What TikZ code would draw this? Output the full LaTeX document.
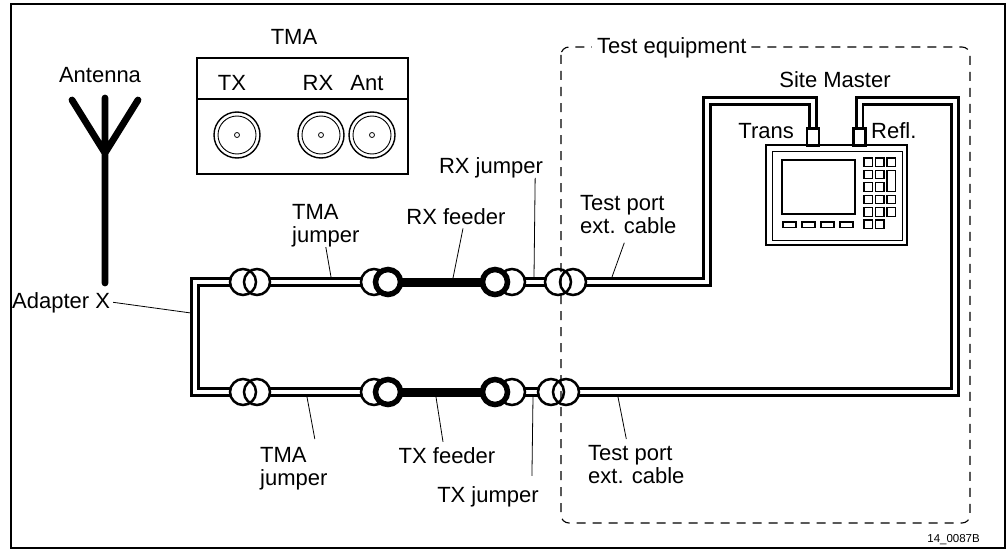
\documentclass[tikz,border=0pt]{standalone}
\usepackage{fontspec}
\setmainfont{Liberation Sans}
\usetikzlibrary{backgrounds}
\begin{document}
\begin{tikzpicture}[x=1pt,y=-1pt,
  txt/.style={font=\fontsize{22}{23}\selectfont,inner sep=0pt},
  cable/.style={line width=2.6pt,double=white,double distance=4pt},
  feeder/.style={line width=9pt},
  plug/.style={circle,draw,line width=2.5pt,minimum size=26pt,inner sep=0pt,outer sep=0pt},
  fplug/.style={plug,fill=white,line width=5.5pt,minimum size=25pt},
  lead/.style={line width=0.8pt},
  port/.style={draw,fill=white,line width=2.6pt,minimum width=12pt,minimum height=17pt,inner sep=0pt,outer sep=0pt},
  key/.style={line width=1.1pt}]
\useasboundingbox (0,0) rectangle (1007,551);
\draw[line width=1.2pt] (11,4) rectangle (1005,548);

% antenna
\draw[line width=6.8pt,line cap=round,line join=round] (72,100) -- (105,153) -- (138,100) (105,98) -- (105,283);
\node[txt,anchor=base] (antenna) at (100,83) {Antenna};

% TMA front panel
\node[txt,anchor=base] (tma) at (294,45) {TMA};
\draw[line width=2.2pt] (197,58) rectangle (408,174) (197,99) -- (408,99);
\foreach \x/\name in {232/TX,318/RX,367/Ant}
  \node[txt,anchor=base] (tma\name) at (\x,90) {\name};
\foreach \x in {237,321,372}{
  \draw[line width=1.4pt] (\x,135) circle (23);
  \draw[line width=0.9pt] (\x,135) circle (19);
  \draw[line width=0.8pt] (\x,135) circle (2.5);
}

% connectors, upper (u) and lower (l) line
\foreach \s/\y in {u/282,l/392}{
  \node[plug] (\s a1) at (243,\y) {};
  \node[plug] (\s a2) at (257,\y) {};
  \node[plug] (\s f1) at (374,\y) {};
  \node[fplug] (\s f2) at (388,\y) {};
  \node[plug] (\s f4) at (512,\y) {};
  \node[fplug] (\s f3) at (495,\y) {};
}
\node[plug] (ut1) at (558,282) {};
\node[plug] (ut2) at (573,282) {};
\node[plug] (lt1) at (551,392) {};
\node[plug] (lt2) at (566,392) {};

% Site Master
\node[draw,line width=2.6pt,minimum width=141pt,minimum height=100pt,inner sep=0pt,outer sep=0pt] (sm) at (836.5,195) {};
\draw[line width=1pt] (772,151) rectangle (902,240);
\draw[key] (782,160) rectangle (855,214);
\foreach \i in {0,...,3}
  \draw[key] (783+19*\i,222) rectangle ++(13,5.5);
\foreach \c/\k in {0/0,1/0,2/0,0/1,1/1,0/2,1/2,0/3,1/3,2/3,0/4,1/4,2/4,0/5,1/5}
  \draw[key] (864+11.5*\c,158+12.4*\k) rectangle ++(8.5,8.5);
\draw[key] (887,170.4) rectangle ++(8.5,20.9);
\node[port] (trans) at (813,137) {};
\node[port] (refl) at (859.5,137) {};

% cables
\begin{scope}[on background layer]
\draw[cable] (ua1.west) -- ++(-35,0) |- (la1.west);
\foreach \s in {u,l}{
  \draw[cable] (\s a2.east) -- (\s f1.west);
  \draw[feeder] (\s f2.east) -- (\s f3.west);
  \draw[cable] (\s f4.east) -- (\s t1.west);
}
\draw[cable] (ut2.east) -| (707,101) -| (trans.north);
\draw[cable] (refl.north) |- (955,101) |- (lt2.east);
\end{scope}

% test equipment
\draw[line width=1.1pt,dash pattern=on 9pt off 7pt,rounded corners=8pt] (561,47) rectangle (970,523);
\node[txt,anchor=base west,fill=white,inner xsep=5pt] (testeq) at (592,54) {Test equipment};
\node[txt,anchor=base] (smlabel) at (835,88) {Site Master};
\node[txt,anchor=base east] (translabel) at (794,138) {Trans};
\node[txt,anchor=base west] (refllabel) at (871,138) {Refl.};

% labels
\node[txt,anchor=north west,align=left] (tmajuU) at (292,204) {TMA\\jumper};
\node[txt,anchor=base] (rxfeed) at (456,224) {RX feeder};
\node[txt,anchor=base] (rxjump) at (491,173) {RX jumper};
\node[txt,anchor=north west,align=left] (testU) at (580,195) {Test port\\ext. cable};
\node[txt,anchor=base west] (adapter) at (12,308) {Adapter X};
\node[txt,anchor=north west,align=left] (tmajuL) at (260,447) {TMA\\jumper};
\node[txt,anchor=base] (txfeed) at (447,463) {TX feeder};
\node[txt,anchor=base] (txjump) at (488,502) {TX jumper};
\node[txt,anchor=north west,align=left] (testL) at (588,445) {Test port\\ext. cable};
\node[font=\fontsize{11.5}{13}\selectfont,anchor=base east,inner sep=0pt] (fig) at (980,542) {14\_0087B};

\draw[lead] (tmajuU.south) -- (331,277);
\draw[lead] ([shift={(7pt,-4pt)}]rxfeed.south) -- (453,278);
\draw[lead] ([xshift=-8pt]rxjump.south east) -- (534,277);
\draw[lead] ([shift={(-4pt,-9pt)}]testU.south) -- (612,277);
\draw[lead] ([xshift=3pt]adapter.east) -- (191,313);
\draw[lead] ([shift={(21pt,8pt)}]tmajuL.north) -- (307,397);
\draw[lead] ([shift={(-4pt,5pt)}]txfeed.north) -- (436,397);
\draw[lead] ([shift={(-7pt,10pt)}]txjump.north east) -- (533,397);
\draw[lead] ([shift={(-10pt,6pt)}]testL.north) -- (618,397);
\end{tikzpicture}
\end{document}
